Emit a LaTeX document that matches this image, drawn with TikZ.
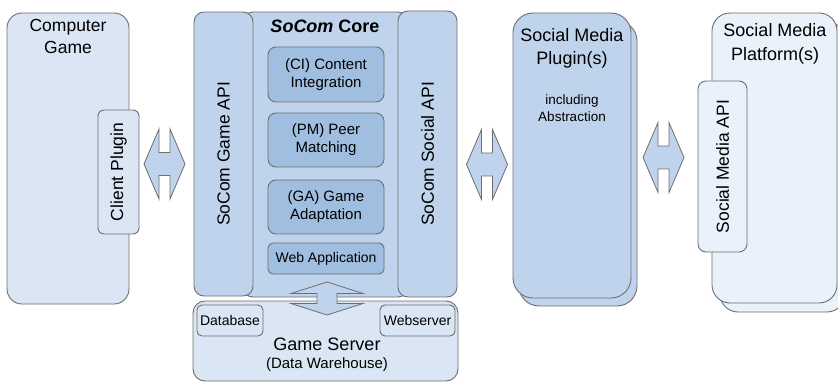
\documentclass[tikz,border=0pt]{standalone}
\usepackage{fontspec}
\setmainfont{Liberation Sans}
\begin{document}
\begin{tikzpicture}[x=1pt,y=-1pt,
  every node/.style={inner sep=0pt, outer sep=0pt},
  box/.style={draw=linegrey, line width=0.9pt, rectangle, rounded corners=#1},
  box/.default=10pt,
  txt/.style={align=center, font=\fontsize{17.5}{22}\selectfont},
  mid/.style={align=center, font=\fontsize{15}{18}\selectfont},
  small/.style={align=center, font=\fontsize{14}{17}\selectfont},
  arrowshape/.style={draw=linegrey, line width=0.8pt, fill=midblue, line join=miter},
  harrow/.pic={\path[arrowshape] (-20.5,0) -- (-5.5,-35) -- (-5.5,-11.5) -- (5.5,-11.5)
      -- (5.5,-35) -- (20.5,0) -- (5.5,35) -- (5.5,11.5) -- (-5.5,11.5) -- (-5.5,35) -- cycle;},
  varrow/.pic={\path[arrowshape] (0,-16.5) -- (36,-5) -- (10,-5) -- (10,5) -- (36,5)
      -- (0,16.5) -- (-36,5) -- (-10,5) -- (-10,-5) -- (-36,-5) -- cycle;}
]
\definecolor{linegrey}{HTML}{6E6E6E}
\definecolor{lightblue}{HTML}{DAE6F4}
\definecolor{midblue}{HTML}{BFD4EC}
\definecolor{darkblue}{HTML}{A0BFE0}
\definecolor{paleblue}{HTML}{E9F1FB}

\useasboundingbox (0,0) rectangle (838,382);

% Computer game with its client plugin
\node[box=15pt, fill=lightblue, minimum width=122pt, minimum height=291pt] (game) at (68,158.5) {};
\node[txt, anchor=north] (gametitle) at (68,19) {Computer\\Game};
\node[box=6pt, fill=lightblue, minimum width=41pt, minimum height=124pt] (client) at (118.5,172) {};
\node[txt, rotate=90] (clienttxt) at (client.center) {Client Plugin};

% SoCom core with its two APIs
\node[box=10pt, fill=midblue, minimum width=165pt, minimum height=285pt] (core) at (325.5,154.5) {};
\node[font=\fontsize{18}{22}\selectfont\bfseries] (coretitle) at (325,26) {\textit{SoCom} Core};
\node[box=10pt, fill=midblue, minimum width=59pt, minimum height=284pt] (gameapi) at (223.5,154) {};
\node[txt, rotate=90] (gameapitxt) at (gameapi.center) {SoCom Game API};
\node[box=10pt, fill=midblue, minimum width=59pt, minimum height=286pt] (socialapi) at (427.5,154) {};
\node[txt, rotate=90] (socialapitxt) at (socialapi.center) {SoCom Social API};

\node[box=8pt, fill=darkblue, minimum width=116pt, minimum height=55pt, mid] (ci) at (326,74.5) {(CI) Content\\Integration};
\node[box=8pt, fill=darkblue, minimum width=116pt, minimum height=54pt, mid] (pm) at (326,140) {(PM) Peer\\Matching};
\node[box=8pt, fill=darkblue, minimum width=116pt, minimum height=54pt, mid] (ga) at (326,207) {(GA) Game\\Adaptation};
\node[box=5pt, fill=darkblue, minimum width=116pt, minimum height=31pt, small] (web) at (326,258.5) {Web Application};

% Game server
\node[box=12pt, fill=lightblue, minimum width=265pt, minimum height=80pt] (server) at (325.5,341) {};
\node[box=5pt, fill=lightblue, minimum width=66pt, minimum height=31pt, small] (db) at (230,320.5) {Database};
\node[box=5pt, fill=lightblue, minimum width=75pt, minimum height=31pt, small] (websrv) at (417.5,320.5) {Webserver};
\node[font=\fontsize{18}{22}\selectfont] (servertitle) at (327,344) {Game Server};
\node[mid] (serversub) at (327,365) {(Data Warehouse)};

% Social media plugins (stacked)
\node[box=20pt, fill=midblue, minimum width=118pt, minimum height=285pt] (pluginback) at (578,163.5) {};
\node[box=20pt, fill=midblue, minimum width=118pt, minimum height=285pt] (plugin) at (572,155.5) {};
\node[txt, anchor=north, font=\fontsize{18}{23}\selectfont] (plugintitle) at (572,28) {Social Media\\Plugin(s)};
\node[small, font=\fontsize{13.5}{17}\selectfont, anchor=north] (pluginsub) at (572,95) {including\\Abstraction};

% Social media platforms (stacked) with their API
\node[box=18pt, fill=paleblue, minimum width=125pt, minimum height=290pt] (platformback) at (782.5,167) {};
\node[box=18pt, fill=paleblue, minimum width=125pt, minimum height=290pt] (platform) at (774.5,158) {};
\node[txt, anchor=north, font=\fontsize{18}{24}\selectfont] (platformtitle) at (775,23) {Social Media\\Platform(s)};
\node[box=8pt, fill=paleblue, minimum width=49pt, minimum height=171pt] (smapi) at (722.5,166.5) {};
\node[txt, rotate=90] (smapitxt) at (smapi.center) {Social Media API};

% Two-way links between the components
\pic (link1) at (164.5,164) {harrow};
\pic (link2) at (487,164.5) {harrow};
\pic (link3) at (663.5,157.5) {harrow};
\pic (link4) at (327,298.5) {varrow};
\end{tikzpicture}
\end{document}
